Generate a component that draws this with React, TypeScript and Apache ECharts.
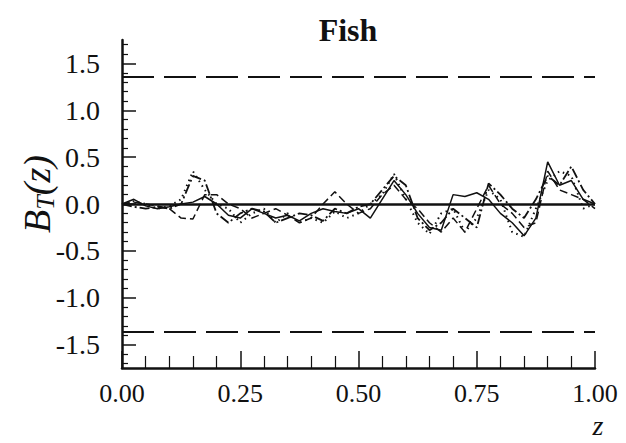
import React, { useEffect, useRef } from "react";
import * as echarts from "echarts";

const zValues = [
  0, 0.025, 0.05, 0.075, 0.1, 0.125, 0.15, 0.175, 0.2, 0.225, 0.25, 0.275, 0.3, 0.325,
  0.35, 0.375, 0.4, 0.425, 0.45, 0.475, 0.5, 0.525, 0.55, 0.575, 0.6, 0.625, 0.65,
  0.675, 0.7, 0.725, 0.75, 0.775, 0.8, 0.825, 0.85, 0.875, 0.9, 0.925, 0.95, 0.975, 1,
];

const solidSeries = [
  0, 0.05, -0.02, -0.05, -0.03, 0.0, 0.02, 0.08, 0.0, -0.12, -0.15, -0.05, -0.1, -0.15,
  -0.12, -0.18, -0.1, -0.05, -0.08, -0.1, -0.05, -0.15, 0.05, 0.25, 0.1, -0.1, -0.25,
  -0.28, 0.1, 0.08, 0.12, 0.05, -0.1, -0.2, -0.34, -0.15, 0.45, 0.2, 0.25, 0.05, 0,
];

const dashedSeries = [
  0, 0.02, 0.0, -0.02, -0.05, -0.15, -0.16, 0.1, 0.1, 0.0, -0.05, -0.15, -0.1, -0.05,
  -0.12, -0.2, -0.15, 0.0, 0.13, 0.0, -0.1, -0.05, 0.1, 0.2, 0.05, -0.05, -0.2, -0.3,
  -0.15, -0.3, -0.05, 0.2, 0.0, -0.1, -0.25, -0.2, 0.35, 0.15, 0.1, 0.05, -0.05,
];

const dashDotSeries = [
  0, -0.03, -0.05, -0.03, -0.05, 0.0, 0.3, 0.25, -0.1, -0.2, -0.1, -0.05, -0.08, -0.2,
  -0.15, -0.1, -0.12, -0.18, -0.05, -0.1, -0.03, 0.0, 0.15, 0.3, 0.2, -0.15, -0.28, -0.2,
  -0.05, -0.15, -0.25, 0.22, 0.1, -0.05, -0.15, 0.05, 0.3, 0.2, 0.4, 0.15, 0,
];

const dottedSeries = [
  0, 0.03, 0.0, -0.05, -0.02, 0.05, 0.35, 0.15, 0.0, -0.05, -0.2, -0.1, -0.05, -0.2,
  -0.1, -0.2, -0.15, -0.2, -0.08, -0.15, -0.1, 0.0, 0.1, 0.32, 0.05, -0.2, -0.32, -0.1,
  -0.05, -0.3, -0.15, 0.15, 0.05, -0.3, -0.35, -0.05, 0.25, 0.35, 0.3, -0.05, 0,
];

const xTickLabels = [0, 0.25, 0.5, 0.75, 1];
const yTickLabels = [-1.5, -1.0, -0.5, 0.0, 0.5, 1.0, 1.5];
const yMinorTicks = [
  -1.7, -1.6, -1.4, -1.3, -1.2, -1.1, -0.9, -0.8, -0.7, -0.6, -0.4, -0.3, -0.2, -0.1,
  0.1, 0.2, 0.3, 0.4, 0.6, 0.7, 0.8, 0.9, 1.1, 1.2, 1.3, 1.4, 1.6, 1.7,
];
const criticalValue = 1.36;

const FONT = "'Liberation Serif', 'DejaVu Serif', serif";
const INK = "#111";

export default function App() {
  const ref = useRef<HTMLDivElement>(null);

  useEffect(() => {
    if (!ref.current) return;
    const chart = echarts.init(ref.current, undefined, { renderer: "svg" });

    const mk = (vals: number[]) => zValues.map((z, i) => [z, vals[i]]);

    const lineBase = {
      type: "line" as const,
      showSymbol: false,
      symbol: "none",
      silent: true,
      xAxisIndex: 0,
      yAxisIndex: 0,
    };

    chart.setOption({
      animation: false,
      backgroundColor: "#fff",
      title: {
        text: "Fish",
        left: 343,
        top: 9,
        textAlign: "center",
        textStyle: { fontFamily: FONT, fontWeight: "bold", fontSize: 32, color: INK },
      },
      grid: { left: 122, right: 31, top: 40, bottom: 75, outerBoundsMode: "none" },
      xAxis: {
        type: "value",
        min: 0,
        max: 1,
        interval: 0.25,
        axisLine: { show: true, onZero: false, lineStyle: { color: INK, width: 2.5 } },
        axisTick: { show: true, inside: true, length: 17, lineStyle: { color: INK, width: 1.5 } },
        minorTick: { show: true, splitNumber: 5, length: 12, lineStyle: { color: INK, width: 1.2 } },
        axisLabel: {
          margin: 12,
          fontFamily: FONT,
          fontSize: 26,
          color: INK,
          formatter: (v: number) => (xTickLabels.includes(v) ? v.toFixed(2) : ""),
        },
        splitLine: { show: false },
        minorSplitLine: { show: false },
      },
      yAxis: [
        {
          type: "value",
          min: -1.75,
          max: 1.75,
          position: "left",
          axisLine: { show: true, onZero: false, lineStyle: { color: INK, width: 2.5 } },
          axisTick: {
            show: true,
            inside: true,
            length: 14,
            customValues: yTickLabels,
            lineStyle: { color: INK, width: 1.5 },
          },
          axisLabel: {
            margin: 22,
            fontFamily: FONT,
            fontSize: 28,
            color: INK,
            customValues: yTickLabels,
            formatter: (v: number) => v.toFixed(1),
          },
          splitLine: { show: false },
        },
        {
          type: "value",
          min: -1.75,
          max: 1.75,
          position: "left",
          axisLine: { show: false },
          axisTick: {
            show: true,
            inside: true,
            length: 6,
            customValues: yMinorTicks,
            lineStyle: { color: INK, width: 1.2 },
          },
          axisLabel: { show: false },
          splitLine: { show: false },
        },
      ],
      series: [
        {
          ...lineBase,
          name: "solid",
          data: mk(solidSeries),
          lineStyle: { color: INK, width: 1.5, type: "solid" },
          markLine: {
            silent: true,
            symbol: "none",
            label: { show: false },
            data: [
              { yAxis: 0, lineStyle: { color: INK, width: 2.5, type: "solid" } },
              { yAxis: criticalValue, lineStyle: { color: INK, width: 2, type: [32, 10] } },
              { yAxis: -criticalValue, lineStyle: { color: INK, width: 2, type: [32, 10] } },
            ],
          },
        },
        {
          ...lineBase,
          name: "dashed",
          data: mk(dashedSeries),
          lineStyle: { color: INK, width: 1.5, type: [8, 4] },
        },
        {
          ...lineBase,
          name: "dashdot",
          data: mk(dashDotSeries),
          lineStyle: { color: INK, width: 1.8, type: [10, 3, 2, 3] },
        },
        {
          ...lineBase,
          name: "dotted",
          data: mk(dottedSeries),
          lineStyle: { color: INK, width: 2, type: [1.5, 4] },
        },
      ],
      graphic: [
        {
          type: "text",
          x: 37,
          y: 194,
          rotation: Math.PI / 2,
          style: {
            text: "{b|B}{s|T}{b|(z)}",
            rich: {
              b: { fontFamily: FONT, fontStyle: "italic", fontSize: 38, fill: INK, color: INK },
              s: {
                fontFamily: FONT,
                fontStyle: "italic",
                fontSize: 26,
                fill: INK,
                color: INK,
                padding: [16, 0, 0, 0],
              },
            },
            align: "center",
            verticalAlign: "middle",
            fill: INK,
          },
        },
        {
          type: "text",
          x: 598,
          y: 425,
          style: {
            text: "z",
            fontFamily: FONT,
            fontStyle: "italic",
            fontSize: 28,
            fill: INK,
            align: "center",
            verticalAlign: "middle",
          },
        },
      ],
    });

    return () => chart.dispose();
  }, []);

  return (
    <div
      ref={ref}
      style={{ position: "absolute", left: 0, top: 0, width: 626, height: 443 }}
    />
  );
}
